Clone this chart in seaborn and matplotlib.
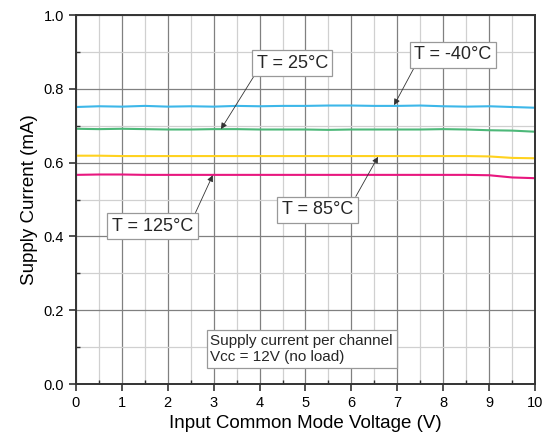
import matplotlib
matplotlib.use("Agg")
import matplotlib.pyplot as plt
import seaborn as sns
import pandas as pd
import numpy as np
from matplotlib.ticker import MultipleLocator

sns.set_theme(style="white")
plt.rcParams['font.family'] = ['Liberation Sans', 'DejaVu Sans']

voltage = [0, 0.5, 1, 1.5, 2, 2.5, 3, 3.5, 4, 4.5, 5, 5.5, 6, 6.5, 7, 7.5, 8, 8.5, 9, 9.5, 10]
i_m40 = [0.751, 0.753, 0.752, 0.754, 0.752, 0.753, 0.752, 0.754, 0.753, 0.754, 0.754,
         0.755, 0.755, 0.754, 0.754, 0.755, 0.753, 0.752, 0.753, 0.751, 0.749]
i_25 = [0.692, 0.691, 0.692, 0.691, 0.690, 0.690, 0.691, 0.691, 0.690, 0.690, 0.690,
        0.689, 0.690, 0.690, 0.690, 0.690, 0.691, 0.690, 0.688, 0.687, 0.684]
i_85 = [0.619, 0.619, 0.618, 0.618, 0.618, 0.618, 0.618, 0.618, 0.618, 0.618, 0.618,
        0.618, 0.618, 0.618, 0.618, 0.618, 0.618, 0.618, 0.617, 0.613, 0.612]
i_125 = [0.567, 0.568, 0.568, 0.567, 0.567, 0.567, 0.567, 0.567, 0.567, 0.567, 0.567,
         0.567, 0.567, 0.567, 0.567, 0.567, 0.567, 0.567, 0.566, 0.560, 0.558]
series_names = ["T = -40°C", "T = 25°C", "T = 85°C", "T = 125°C"]
colors = ["#3DB7E9", "#4DB879", "#FFD21F", "#E8177F"]

df = pd.DataFrame({
    "V": voltage * 4,
    "I": i_m40 + i_25 + i_85 + i_125,
    "T": sum([[n] * len(voltage) for n in series_names], []),
})

fig = plt.figure(figsize=(5.46, 4.46), dpi=100)
ax = fig.add_axes([0.139, 0.139, 0.841, 0.827])

sns.lineplot(data=df, x="V", y="I", hue="T", palette=colors, hue_order=series_names,
             ax=ax, legend=False, linewidth=1.5)

ax.set_xlim(0, 10)
ax.set_ylim(0, 1.0)
ax.xaxis.set_major_locator(MultipleLocator(1))
ax.xaxis.set_minor_locator(MultipleLocator(0.5))
ax.yaxis.set_major_locator(MultipleLocator(0.2))
ax.yaxis.set_minor_locator(MultipleLocator(0.1))
ax.yaxis.set_major_formatter(matplotlib.ticker.FormatStrFormatter('%.1f'))
ax.grid(True, which='major', color='#808080', linewidth=0.9)
ax.grid(True, which='minor', color='#d0d0d0', linewidth=0.9)
ax.set_axisbelow(True)
ax.tick_params(which='major', direction='out', length=5, width=1.2, color='#333333',
               labelsize=10.5, labelcolor='black', bottom=True, left=True)
ax.tick_params(which='minor', direction='in', length=3, width=1.0, color='#333333',
               bottom=True, left=True)
for s in ax.spines.values():
    s.set_color('#333333')
    s.set_linewidth(1.4)
    s.set_visible(True)

ax.set_xlabel("Input Common Mode Voltage (V)", fontsize=13.5, color='black')
ax.set_ylabel("Supply Current (mA)", fontsize=13.5, color='black')

bbox = dict(boxstyle='square,pad=0.25', fc='white', ec='#999999', lw=0.9)
arrow = lambda rp: dict(arrowstyle='-|>', color='#333333', lw=0.6, mutation_scale=9,
                        relpos=rp, shrinkA=0, shrinkB=0)

ax.annotate("T = 25°C", xy=(3.16, 0.691), xytext=(4.71, 0.869), ha='center', va='center',
            fontsize=13, bbox=bbox, arrowprops=arrow((0, 0)))
ax.annotate("T = -40°C", xy=(6.93, 0.756), xytext=(8.21, 0.893), ha='center', va='center',
            fontsize=13, bbox=bbox, arrowprops=arrow((0.03, 0)))
ax.annotate("T = 125°C", xy=(2.98, 0.566), xytext=(1.67, 0.428), ha='center', va='center',
            fontsize=13, bbox=bbox, arrowprops=arrow((1, 1)))
ax.annotate("T = 85°C", xy=(6.58, 0.616), xytext=(5.26, 0.472), ha='center', va='center',
            fontsize=13, bbox=bbox, arrowprops=arrow((1, 1)))

ax.text(2.93, 0.095, "Supply current per channel\nVcc = 12V (no load)", ha='left', va='center',
        fontsize=11, linespacing=1.2,
        bbox=dict(boxstyle='square,pad=0.25', fc='white', ec='#999999', lw=0.9))

fig.savefig("out.png", dpi=100)
